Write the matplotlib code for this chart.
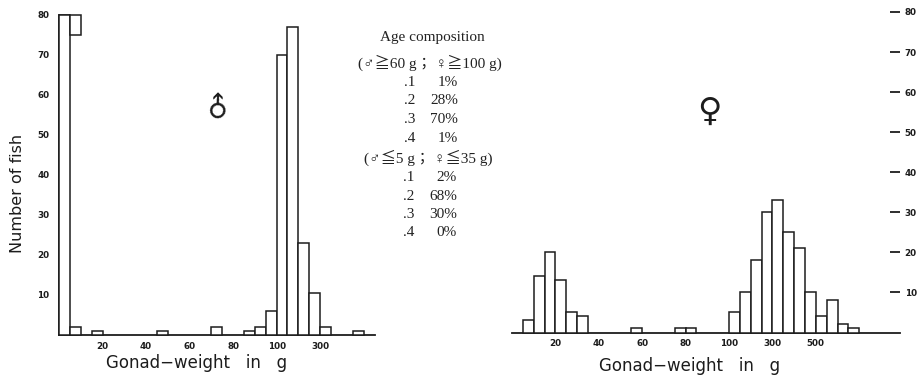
import matplotlib
matplotlib.use('Agg')
import matplotlib.pyplot as plt
import numpy as np
from matplotlib.patches import Rectangle

W, H, DPI = 921, 379, 100

# ---------------- data ----------------
# bins: 5 g wide up to 100 g, 50 g wide above 100 g (bin index = position on axis)
male_counts = [80, 2, 0, 1, 0, 0, 0, 0, 0, 1, 0, 0, 0, 0, 2, 0, 0, 1, 2, 6,
               70, 77, 23, 10.5, 2, 0, 0, 1]
male_off_scale_bins = [0]          # first bin exceeds the 80 scale
female_counts = [0, 3, 14, 20, 13, 5, 4, 0, 0, 0, 0, 1, 0, 0, 0, 1, 1, 0, 0, 0,
                 5, 10, 18, 30, 33, 25, 21, 10, 4, 8, 2, 1]
male_tick_edges = [4, 8, 12, 16, 20, 24]
male_tick_labels = ['20', '40', '60', '80', '100', '300']
female_tick_edges = [4, 8, 12, 16, 20, 24, 28]
female_tick_labels = ['20', '40', '60', '80', '100', '300', '500']
y_ticks = [10, 20, 30, 40, 50, 60, 70, 80]
age_classes = ['.1', '.2', '.3', '.4']
adult_pct = [1, 28, 70, 1]
juvenile_pct = [2, 68, 30, 0]

EDGE = '#1c1c1c'
fig = plt.figure(figsize=(W / DPI, H / DPI), dpi=DPI)
fig.patch.set_facecolor('white')


def px_axes(x0, x1, ybot, ytop):
    return fig.add_axes([x0 / W, (H - ybot) / H, (x1 - x0) / W, (ybot - ytop) / H])


def draw_bars(ax, counts, ymax):
    idx = np.arange(len(counts))
    vals = np.minimum(np.asarray(counts, float), ymax)
    mask = vals > 0
    ax.bar(idx[mask], vals[mask], width=1, align='edge', facecolor='white',
           edgecolor=EDGE, linewidth=1.1, clip_on=False, zorder=3)


tick_font = dict(family='DejaVu Sans', fontsize=6.3, fontweight='bold')

# ---------------- male panel ----------------
ax1 = px_axes(59, 59 + 29 * 10.88, 335, 15)
ax1.set_xlim(0, 29)
ax1.set_ylim(0, 80)
draw_bars(ax1, male_counts, 80)
for b in male_off_scale_bins:
    ax1.add_patch(Rectangle((b + 1, 75), 1, 5, facecolor='white', edgecolor=EDGE,
                            linewidth=1.1, clip_on=False, zorder=3))
for s in ['top', 'right']:
    ax1.spines[s].set_visible(False)
for s in ['left', 'bottom']:
    ax1.spines[s].set_linewidth(1.3)
    ax1.spines[s].set_color(EDGE)
ax1.set_yticks(y_ticks)
ax1.set_yticklabels([str(v) for v in y_ticks], **tick_font)
ax1.tick_params(axis='y', direction='in', length=8, width=1.1, pad=7, colors=EDGE)
ax1.set_xticks(male_tick_edges)
ax1.set_xticklabels(male_tick_labels, **tick_font)
ax1.tick_params(axis='x', length=0, pad=5, colors=EDGE)

# ---------------- female panel ----------------
ax2 = px_axes(512, 512 + 35.8 * 10.85, 332.5, 12)
ax2.set_xlim(0, 35.8)
ax2.set_ylim(0, 80)
draw_bars(ax2, female_counts, 80)
for s in ['top', 'right', 'left']:
    ax2.spines[s].set_visible(False)
ax2.spines['bottom'].set_linewidth(1.3)
ax2.spines['bottom'].set_color(EDGE)
ax2.yaxis.tick_right()
ax2.set_yticks(y_ticks)
ax2.set_yticklabels([str(v) for v in y_ticks], **tick_font)
ax2.tick_params(axis='y', direction='in', length=7, width=1.3, pad=3, colors=EDGE)
ax2.set_xticks(female_tick_edges)
ax2.set_xticklabels(female_tick_labels, **tick_font)
ax2.tick_params(axis='x', length=0, pad=5, colors=EDGE)


def ftext(x, y, s, **kw):
    fig.text(x / W, 1 - y / H, s, **kw)


# axis labels
lab_font = dict(family='DejaVu Sans', color=EDGE)
ftext(17, 193, 'Number of fish', rotation=90, ha='center', va='center',
      fontsize=11.5, **lab_font)
ftext(197, 363, 'Gonad\u2212weight   in   g', ha='center', va='center',
      fontsize=12, **lab_font)
ftext(690, 366, 'Gonad\u2212weight   in   g', ha='center', va='center',
      fontsize=12, **lab_font)

# sex symbols
ftext(219, 106, '\u2642', rotation=45, ha='center', va='center', fontsize=20,
      family='DejaVu Sans', color=EDGE)
ftext(709, 111, '\u2640', ha='center', va='center', fontsize=24,
      family='DejaVu Sans', color=EDGE)

# age composition block
serif = dict(family=['Liberation Serif', 'Noto Sans CJK JP', 'DejaVu Sans'],
             fontsize=11, color='#222222')
ftext(432, 37, 'Age composition', ha='center', va='center', **serif)
ftext(430, 63, '(\u2642\u226760 g\uff1b \u2640\u2267100 g)', ha='center', va='center', **serif)
y0 = 82
for i, (c, p) in enumerate(zip(age_classes, adult_pct)):
    ftext(404, y0 + i * 18.7, c, ha='left', va='center', **serif)
    ftext(458, y0 + i * 18.7, f'{p}%', ha='right', va='center', **serif)
ftext(428, 158, '(\u2642\u22665 g\uff1b \u2640\u226635 g)', ha='center', va='center', **serif)
y0 = 178
for i, (c, p) in enumerate(zip(age_classes, juvenile_pct)):
    ftext(403, y0 + i * 18, c, ha='left', va='center', **serif)
    ftext(457, y0 + i * 18, f'{p}%', ha='right', va='center', **serif)

fig.savefig('out.png', dpi=DPI, facecolor='white')
